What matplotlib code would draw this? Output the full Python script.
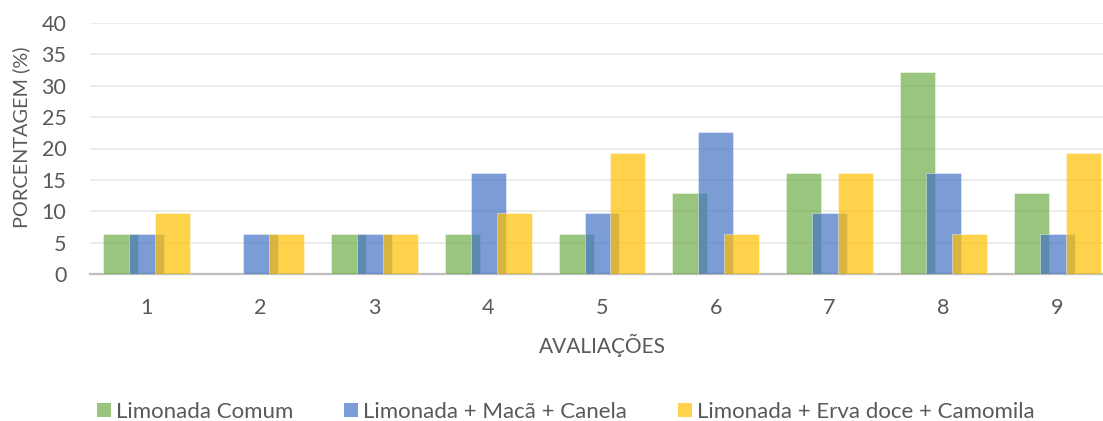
import matplotlib
matplotlib.use("Agg")
import matplotlib.pyplot as plt
import numpy as np
from matplotlib.patches import Patch

plt.rcParams['font.family'] = ['Lato', 'DejaVu Sans']

avaliacoes = ["1", "2", "3", "4", "5", "6", "7", "8", "9"]
series_names = ["Limonada Comum", "Limonada + Macã + Canela", "Limonada + Erva doce + Camomila"]
limonada_comum = [6.45, 0, 6.45, 6.45, 6.45, 12.90, 16.13, 32.26, 12.90]
limonada_maca_canela = [6.45, 6.45, 6.45, 16.13, 9.68, 22.58, 9.68, 16.13, 6.45]
limonada_erva_camomila = [9.68, 6.45, 6.45, 9.68, 19.35, 6.45, 16.13, 6.45, 19.35]
colors = ["#70AD47", "#4472C4", "#FFC000"]

W, H = 1103, 421
fig = plt.figure(figsize=(W / 100, H / 100), dpi=100)
ax = fig.add_axes([90 / W, (H - 274) / H, 1024 / W, 251 / H])

x = np.arange(1, len(avaliacoes) + 1)
width = 0.307
offset = 0.228
for i, (vals, c, name) in enumerate(zip(
        [limonada_comum, limonada_maca_canela, limonada_erva_camomila], colors, series_names)):
    ax.bar(x + (i - 1) * offset, vals, width=width, color=c, alpha=0.7,
           edgecolor="white", linewidth=0.4, zorder=3 + i, label=name)

ax.set_xlim(0.5, 9.5)
ax.set_ylim(0, 40)
ax.set_yticks(range(0, 41, 5))
ax.set_xticks(x)
ax.set_xticklabels(avaliacoes)
ax.grid(axis="y", color="#EBEBEB", linewidth=1.3, zorder=0)
ax.set_axisbelow(True)
for s in ["top", "right", "left"]:
    ax.spines[s].set_visible(False)
ax.spines["bottom"].set_color("#BFBFBF")
ax.spines["bottom"].set_linewidth(1.6)
ax.tick_params(axis="both", length=0, labelsize=15.5, labelcolor="#595959")
ax.tick_params(axis="x", pad=17)
ax.tick_params(axis="y", pad=17)

ax.set_ylabel("PORCENTAGEM (%)", fontsize=14.3, color="#595959")
ax.yaxis.set_label_coords(-60 / 1024, 0.546)
fig.text(602 / W, 1 - 345 / H, "AVALIAÇÕES", ha="center", va="center",
         fontsize=15, color="#595959")

handles = [Patch(facecolor=c, alpha=0.7, edgecolor="none") for c in colors]
leg = fig.legend(handles, series_names, loc="center left", bbox_to_anchor=(97 / W, 1 - 412 / H),
                 ncol=3, frameon=False, fontsize=16, handlelength=0.62, handleheight=0.62,
                 handletextpad=0.25, columnspacing=2.27, labelcolor="#595959",
                 borderaxespad=0, borderpad=0)

fig.savefig("out.png", dpi=100)
